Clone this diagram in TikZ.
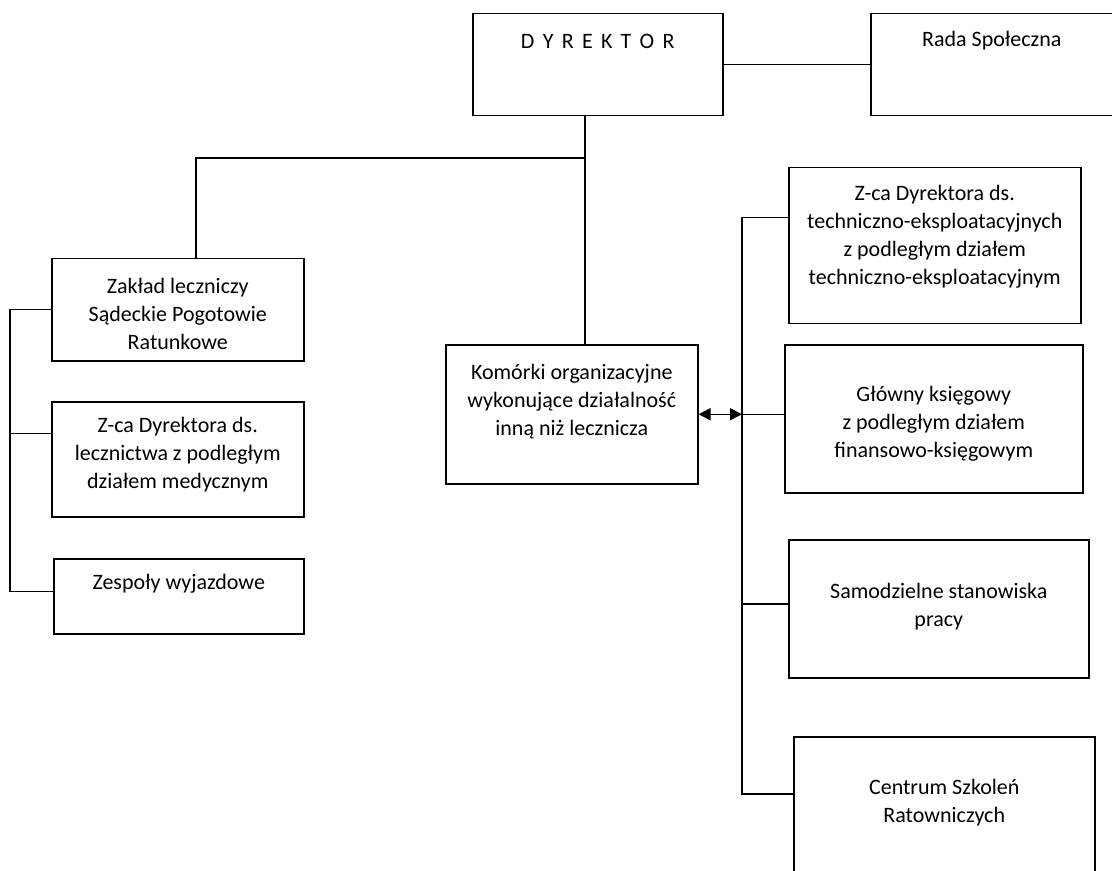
\documentclass[tikz,border=0pt]{standalone}
\usepackage{fontspec}
\setmainfont{Carlito}
\usetikzlibrary{arrows.meta,calc}

\begin{document}
\begin{tikzpicture}[x=0.5pt,y=-0.5pt,
		unit/.style 2 args={draw, line width=0.75pt, anchor=north west, inner sep=0pt, minimum width=#1, minimum height=#2},
		unittxt/.style={anchor=north, align=center, inner sep=0pt, font=\fontsize{11pt}{13.9pt}\selectfont},
		link/.style={line width=0.75pt}]
			%%%%% START %%%%%
			
			\useasboundingbox (0,0) rectangle (1112,871);
			
			\node[unit={125pt}{51pt}] (dyr) at (472,13) {};
			\node[unittxt, yshift=-10.5pt] (dyr-t) at (dyr.north) {\addfontfeature{LetterSpace=15}D Y R E K T O R};
			
			\node[unit={121pt}{51pt}] (rada) at (870,13) {};
			\node[unittxt, yshift=-9pt] (rada-t) at (rada.north) {Rada Społeczna};
			
			\node[unit={126pt}{51pt}] (zaklad) at (51,258) {};
			\node[unittxt, yshift=-10pt] (zaklad-t) at (zaklad.north) {Zakład leczniczy\\Sądeckie Pogotowie\\Ratunkowe};
			
			\node[unit={126pt}{57.5pt}] (zlecz) at (51,401) {};
			\node[unittxt, yshift=-8pt] (zlecz-t) at (zlecz.north) {Z-ca Dyrektora ds.\\lecznictwa z podległym\\działem medycznym};
			
			\node[unit={125pt}{37.5pt}] (zesp) at (53,558) {};
			\node[unittxt, yshift=-8pt] (zesp-t) at (zesp.north) {Zespoły wyjazdowe};
			
			\node[unit={126pt}{69.5pt}] (kom) at (445,344) {};
			\node[unittxt, yshift=-10pt] (kom-t) at (kom.north) {Komórki organizacyjne\\wykonujące działalność\\inną niż lecznicza};
			
			\node[unit={146pt}{78pt}] (ztech) at (788,167) {};
			\node[unittxt, yshift=-9pt] (ztech-t) at (ztech.north) {Z-ca Dyrektora ds.\\techniczno-eksploatacyjnych\\z podległym działem\\techniczno-eksploatacyjnym};
			
			\node[unit={149pt}{74pt}] (glowny) at (784,344) {};
			\node[unittxt, yshift=-21pt] (glowny-t) at (glowny.north) {Główny księgowy\\z podległym działem\\finansowo-księgowym};
			
			\node[unit={150pt}{69pt}] (samo) at (788,539) {};
			\node[unittxt, yshift=-22pt] (samo-t) at (samo.north) {Samodzielne stanowiska\\pracy};
			
			\node[unit={150.5pt}{80pt}] (centrum) at (793,736) {};
			\node[unittxt, yshift=-21.5pt] (centrum-t) at (centrum.north) {Centrum Szkoleń\\Ratowniczych};
			
			% lines from the top
			\coordinate (split) at (585,158);
			\coordinate (lbranch) at (196,158);
			\draw[link] (dyr.east) -- (rada.west);
			\draw[link] (dyr.south -| split) -- (kom.north -| split);
			\draw[link] (split) -- (lbranch) -- (lbranch |- zaklad.north);
			
			% left side
			\coordinate (lbus) at (10,0);
			\coordinate (zlecz-in) at ([yshift=13pt]zlecz.west);
			\coordinate (zesp-in) at ([yshift=2.5pt]zesp.west);
			\draw[link] (zaklad.west) -- (zaklad.west -| lbus) -- (zesp-in -| lbus) -- (zesp-in);
			\draw[link] (zlecz-in -| lbus) -- (zlecz-in);
			
			% right side
			\coordinate (rbus) at (742,0);
			\coordinate (ztech-in) at ([yshift=14pt]ztech.west);
			\coordinate (samo-in) at ([yshift=2.5pt]samo.west);
			\coordinate (centrum-in) at ([yshift=-29pt]centrum.north west);
			\draw[link] (ztech-in) -- (ztech-in -| rbus) -- (centrum-in -| rbus) -- (centrum-in);
			\draw[link] (samo-in -| rbus) -- (samo-in);
			\draw[link, {Triangle[length=6pt,width=6pt]}-{Triangle[length=6pt,width=6pt]}] (kom.east) -- (kom.east -| rbus);
			\draw[link] (kom.east -| rbus) -- (kom.east -| glowny.west);
			
			%%%%% END %%%%%
		\end{tikzpicture}
\end{document}
